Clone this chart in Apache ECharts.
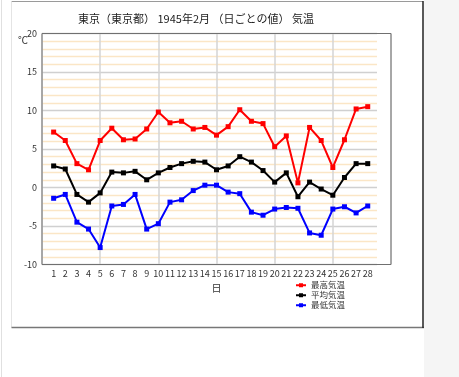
<!DOCTYPE html>
<html><head><meta charset="utf-8">
<script src="https://cdn.jsdelivr.net/npm/echarts@6/dist/echarts.min.js"></script>
<style>html,body{margin:0;padding:0;background:#fff;}#c{width:459px;height:377px;}</style>
</head><body><div id="c"></div>
<script>
const days = [1,2,3,4,5,6,7,8,9,10,11,12,13,14,15,16,17,18,19,20,21,22,23,24,25,26,27,28];
const maxTemp = [7.2,6.1,3.1,2.3,6.1,7.7,6.2,6.3,7.6,9.8,8.4,8.6,7.6,7.8,6.8,7.9,10.1,8.6,8.3,5.3,6.7,0.6,7.8,6.1,2.6,6.2,10.2,10.5];
const avgTemp = [2.8,2.4,-0.9,-1.9,-0.7,2.0,1.9,2.1,1.0,1.9,2.6,3.1,3.4,3.3,2.3,2.8,4.0,3.3,2.2,0.7,1.9,-1.2,0.7,-0.2,-1.0,1.3,3.1,3.1];
const minTemp = [-1.4,-0.9,-4.5,-5.4,-7.8,-2.4,-2.2,-0.9,-5.4,-4.7,-1.9,-1.6,-0.4,0.3,0.3,-0.6,-0.8,-3.2,-3.6,-2.8,-2.6,-2.7,-5.9,-6.2,-2.8,-2.5,-3.3,-2.4];
const seriesNames = ['最高気温','平均気温','最低気温'];
const titleText = '東京（東京都） 1945年2月 （日ごとの値） 気温';

const FONT = '"Noto Sans CJK JP", "DejaVu Sans", sans-serif';
const chart = echarts.init(document.getElementById('c'), null, {renderer:'canvas'});
const pair = arr => days.map((d,i)=>[d, arr[i]]);
const GL = 42, GT = 33.5, GW = 349, GH = 231;
chart.setOption({
  animation:false,
  textStyle:{fontFamily:FONT},
  title:{text:titleText, left:73, top:8, textStyle:{fontSize:11, fontWeight:'normal', color:'#222', fontFamily:FONT}},
  grid:[
    {left:GL, top:GT, width:GW, height:GH, show:true, borderColor:'#707070', borderWidth:1, backgroundColor:'transparent', z:3},
    {left:GL, top:GT, width:335, height:GH, show:false}
  ],
  xAxis:[
    {gridIndex:0, type:'value', min:0, max:30, interval:1, axisLine:{show:false}, axisTick:{show:false}, splitLine:{show:false},
     axisLabel:{fontSize:9, color:'#333', margin:5, formatter:v=> (v>=1 && v<=28) ? String(v) : ''},
     name:'日', nameLocation:'middle', nameGap:17, nameTextStyle:{fontSize:10, color:'#333'}},
    {gridIndex:0, type:'value', min:0, max:30, interval:5, axisLine:{show:false}, axisTick:{show:false}, axisLabel:{show:false},
     splitLine:{show:true, lineStyle:{color:'#d4d4d4', width:1.5}}},
    {gridIndex:1, type:'value', min:0, max:28.7, show:true, axisLine:{show:false}, axisTick:{show:false}, axisLabel:{show:false}, splitLine:{show:false}}
  ],
  yAxis:[
    {gridIndex:0, type:'value', min:-10, max:20, interval:5, axisLine:{show:false}, axisTick:{show:false}, splitLine:{show:false},
     axisLabel:{fontSize:9, color:'#333', margin:5}},
    {gridIndex:1, type:'value', min:-10, max:20, interval:1, axisLine:{show:false}, axisTick:{show:false}, axisLabel:{show:false},
     splitLine:{show:true, lineStyle:{color:['#d0d0d0','#fbe6c6','#fbe6c6','#fbe6c6','#fbe6c6'], width:1.3}}}
  ],
  legend:{orient:'vertical', left:290, top:276, itemWidth:10, itemHeight:5, itemGap:1.5,
    textStyle:{fontSize:8.5, color:'#333'}, data:seriesNames},
  series:[
    {name:seriesNames[0], type:'line', xAxisIndex:0, yAxisIndex:0, data:pair(maxTemp), symbol:'rect', symbolSize:5, color:'#ff0000', lineStyle:{width:2}, z:5},
    {name:seriesNames[1], type:'line', xAxisIndex:0, yAxisIndex:0, data:pair(avgTemp), symbol:'rect', symbolSize:5, color:'#000000', lineStyle:{width:2}, z:5},
    {name:seriesNames[2], type:'line', xAxisIndex:0, yAxisIndex:0, data:pair(minTemp), symbol:'rect', symbolSize:5, color:'#0000ff', lineStyle:{width:2}, z:5}
  ],
  graphic:[
    {type:'rect', shape:{x:424, y:0, width:35, height:377}, style:{fill:'#f5f5f5'}, silent:true},
    {type:'line', shape:{x1:1.5, y1:0, x2:1.5, y2:377}, style:{stroke:'#e0e0e0', lineWidth:1}},
    {type:'line', shape:{x1:11.5, y1:1.5, x2:423, y2:1.5}, style:{stroke:'#9a9a9a', lineWidth:1}},
    {type:'line', shape:{x1:11.5, y1:1.5, x2:11.5, y2:327.5}, style:{stroke:'#e4e4e4', lineWidth:1}},
    {type:'line', shape:{x1:11.5, y1:327.5, x2:424, y2:327.5}, style:{stroke:'#777', lineWidth:1.5}},
    {type:'line', shape:{x1:423, y1:1, x2:423, y2:328}, style:{stroke:'#222', lineWidth:1.5}},
    {type:'text', left:18, top:35, style:{text:'℃', fontSize:10, fill:'#333', fontFamily:FONT}}
  ]
});
</script></body></html>
